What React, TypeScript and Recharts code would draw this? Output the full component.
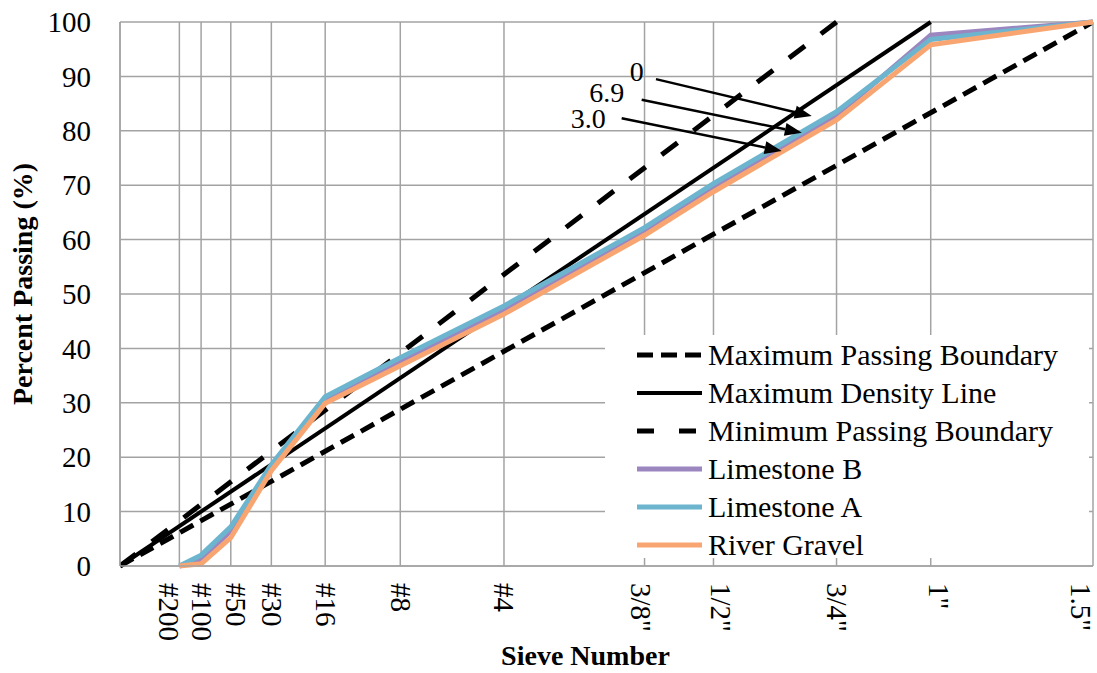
import React from "react";
import {
  LineChart,
  Line,
  XAxis,
  YAxis,
  CartesianGrid,
  Legend,
  ReferenceLine,
  ReferenceDot,
} from "recharts";

// sieve openings (mm) and their labels
const sieveLabels = ["#200", "#100", "#50", "#30", "#16", "#8", "#4", '3/8"', '1/2"', '3/4"', '1"', '1.5"'];
const sieveSizes = [0.075, 0.15, 0.3, 0.6, 1.18, 2.36, 4.75, 9.5, 12.5, 19, 25, 37.5];

// percent passing per sieve
const limestoneB = [0, 1.2, 6.5, 18.2, 30.6, 37.6, 47.2, 61.5, 69.7, 82.8, 97.6, 100];
const limestoneA = [0, 2.0, 7.2, 18.6, 31.1, 38.3, 47.8, 62.2, 70.3, 83.5, 96.8, 100];
const riverGravel = [0, 0.4, 5.2, 17.5, 29.9, 36.8, 46.3, 60.8, 68.8, 82.0, 95.8, 100];

// 0.45 power boundary lines (size in mm -> percent)
const maxPassingSizes = [0, 37.5];
const maxPassingValues = [0, 100];
const maxDensitySizes = [0, 25];
const maxDensityValues = [0, 100];
const minPassingSizes = [0, 19];
const minPassingValues = [0, 100];

const percentTicks = [0, 10, 20, 30, 40, 50, 60, 70, 80, 90, 100];

// arrow callouts, in chart units (x = size^0.45, y = percent)
const calloutLabels = ["0", "6.9", "3.0"];
const calloutText = [[2.713, 90.8], [2.556, 87.0], [2.459, 82.2]];
const calloutFrom = [[2.814, 89.5], [2.739, 85.7], [2.634, 82.3]];
const calloutTo = [[3.632, 82.7], [3.58, 79.65], [3.474, 76.3]];

const FONT = "'Liberation Serif', 'Times New Roman', serif";
const GRID = "#a3a3a3";

const toPos = (mm: number) => Math.pow(mm, 0.45);
const toPoints = (sizes: number[], values: number[]) =>
  sizes.map((s, i) => ({ pos: toPos(s), pct: values[i] }));

type Series = {
  name: string;
  data: { pos: number; pct: number }[];
  color: string;
  width: number;
  dash?: string;
  legendDash?: string;
};

const series: Series[] = [
  { name: "Maximum Passing Boundary", data: toPoints(maxPassingSizes, maxPassingValues), color: "#000", width: 5, dash: "15 8", legendDash: "16 8" },
  { name: "Maximum Density Line", data: toPoints(maxDensitySizes, maxDensityValues), color: "#000", width: 4 },
  { name: "Minimum Passing Boundary", data: toPoints(minPassingSizes, minPassingValues), color: "#000", width: 5, dash: "20 20", legendDash: "17 25" },
  { name: "Limestone B", data: toPoints(sieveSizes, limestoneB), color: "#9b86bf", width: 5 },
  { name: "Limestone A", data: toPoints(sieveSizes, limestoneA), color: "#6db5cf", width: 5 },
  { name: "River Gravel", data: toPoints(sieveSizes, riverGravel), color: "#f8a571", width: 5 },
];

// small sideways nudges for a few rotated sieve labels
const tickNudge: Record<string, number> = {
  "#200": -11,
  "#50": 5,
  '3/8"': -4,
  '1/2"': 7,
  '1"': 8,
  '1.5"': -12,
};

const SieveTick = (props: any) => {
  const { x, y, index } = props;
  const label = sieveLabels[index] ?? "";
  return (
    <g transform={`translate(${x + (tickNudge[label] ?? 0)},${y})`}>
      <text
        transform="rotate(90)"
        x={17}
        y={0}
        dy="0.33em"
        textAnchor="start"
        fontFamily={FONT}
        fontSize={29}
        fill="#000"
      >
        {label}
      </text>
    </g>
  );
};

const makeArrow = (props: any) => {
  const { x1, y1, x2, y2 } = props;
  const dx = x2 - x1;
  const dy = y2 - y1;
  const len = Math.hypot(dx, dy) || 1;
  const ux = dx / len;
  const uy = dy / len;
  const head = 17;
  const half = 6.5;
  const bx = x2 - ux * head;
  const by = y2 - uy * head;
  return (
    <g>
      <line x1={x1} y1={y1} x2={bx} y2={by} stroke="#000" strokeWidth={2.5} />
      <polygon
        points={`${x2},${y2} ${bx - uy * half},${by + ux * half} ${bx + uy * half},${by - ux * half}`}
        fill="#000"
      />
    </g>
  );
};

const LegendBox = () => (
  <div
    style={{
      background: "#fff",
      width: 484,
      height: 223,
      paddingTop: 1,
      boxSizing: "border-box",
      fontFamily: FONT,
      fontSize: 30,
      color: "#000",
    }}
  >
    {series.map((s) => (
      <div
        key={s.name}
        style={{ display: "flex", alignItems: "center", height: 38, paddingLeft: 32 }}
      >
        <svg width={65} height={10} style={{ display: "block" }}>
          <line
            x1={0}
            y1={5}
            x2={65}
            y2={5}
            stroke={s.color}
            strokeWidth={s.width}
            strokeDasharray={s.legendDash ?? s.dash}
          />
        </svg>
        <span style={{ marginLeft: 6, lineHeight: "38px", whiteSpace: "nowrap" }}>{s.name}</span>
      </div>
    ))}
  </div>
);

const YTitle = (props: any) => {
  const { viewBox } = props;
  const cx = viewBox.x + 32;
  const cy = viewBox.y + viewBox.height / 2 - 10;
  return (
    <text
      x={cx}
      y={cy}
      transform={`rotate(-90, ${cx}, ${cy})`}
      textAnchor="middle"
      fontFamily={FONT}
      fontWeight="bold"
      fontSize={28}
      fill="#000"
    >
      Percent Passing (%)
    </text>
  );
};

const XTitle = (props: any) => {
  const { viewBox } = props;
  return (
    <text
      x={viewBox.x + viewBox.width / 2 - 21}
      y={viewBox.y + viewBox.height - 8}
      textAnchor="middle"
      fontFamily={FONT}
      fontWeight="bold"
      fontSize={28}
      fill="#000"
    >
      Sieve Number
    </text>
  );
};

export default function App() {
  return (
    <div style={{ position: "absolute", left: 0, top: 0, width: 1097, height: 673, background: "#fff" }}>
      <LineChart width={1097} height={673} margin={{ top: 22, right: 4, bottom: 0, left: 0 }}>
        <CartesianGrid stroke={GRID} strokeWidth={1.5} />
        <XAxis
          type="number"
          dataKey="pos"
          domain={[0, toPos(37.5)]}
          ticks={sieveSizes.map(toPos)}
          interval={0}
          height={107}
          tickLine={false}
          tickSize={0}
          tickMargin={0}
          axisLine={{ stroke: GRID, strokeWidth: 1.5 }}
          tick={<SieveTick />}
          allowDataOverflow
          label={<XTitle />}
        />
        <YAxis
          type="number"
          domain={[0, 100]}
          ticks={percentTicks}
          interval={0}
          width={120}
          tickLine={false}
          tickSize={0}
          tickMargin={29}
          axisLine={{ stroke: GRID, strokeWidth: 1.5 }}
          tick={{ fontFamily: FONT, fontSize: 29, fill: "#000" }}
          label={<YTitle />}
        />
        {series.map((s) => (
          <Line
            key={s.name}
            data={s.data}
            dataKey="pct"
            name={s.name}
            type="linear"
            stroke={s.color}
            strokeWidth={s.width}
            strokeDasharray={s.dash}
            dot={false}
            activeDot={false}
            isAnimationActive={false}
          />
        ))}
        {calloutLabels.map((label, i) => (
          <ReferenceLine
            key={`arrow-${label}`}
            segment={[
              { x: calloutFrom[i][0], y: calloutFrom[i][1] },
              { x: calloutTo[i][0], y: calloutTo[i][1] },
            ]}
            shape={makeArrow}
          />
        ))}
        {calloutLabels.map((label, i) => (
          <ReferenceDot
            key={`text-${label}`}
            x={calloutText[i][0]}
            y={calloutText[i][1]}
            r={0}
            shape={(p: any) => (
              <text
                x={p.cx}
                y={p.cy}
                dy="0.33em"
                textAnchor="middle"
                fontFamily={FONT}
                fontSize={28}
                fill="#000"
              >
                {label}
              </text>
            )}
          />
        ))}
        <Legend
          layout="horizontal"
          align="center"
          verticalAlign="middle"
          content={() => <LegendBox />}
          wrapperStyle={{ left: 605, top: 335, width: 484, height: 223 }}
        />
      </LineChart>
    </div>
  );
}
